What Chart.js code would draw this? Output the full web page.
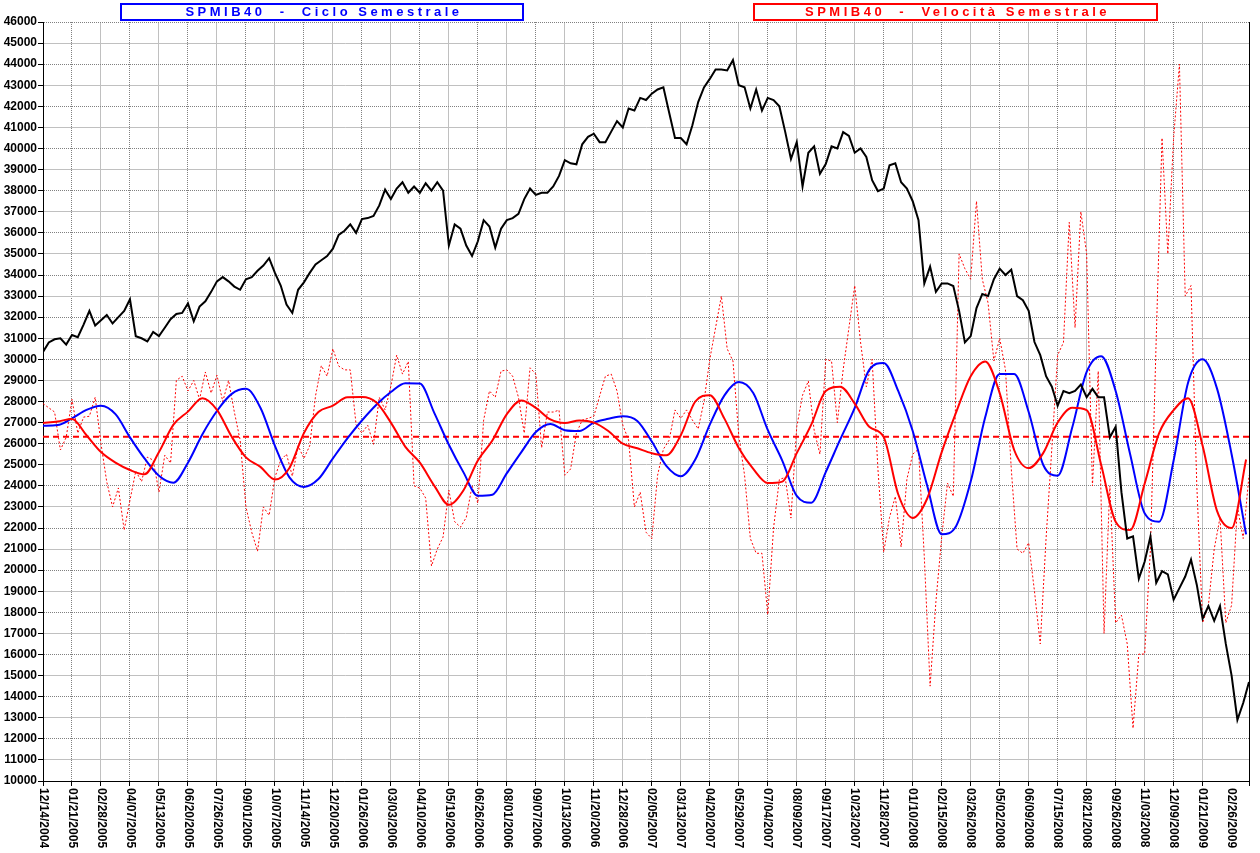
<!DOCTYPE html>
<html>
<head>
<meta charset="utf-8">
<title>SPMIB40 - Ciclo e Velocità Semestrale</title>
<script src="https://cdn.jsdelivr.net/npm/chart.js@4.4.1/dist/chart.umd.min.js"></script>
<style>
  html, body { margin: 0; padding: 0; background: #fff; }
  canvas { display: block; }
</style>
</head>
<body>
<canvas id="chart" width="1260" height="853"></canvas>
<script>
// date shown every 5 weekly samples
const dateLabels = [
  "12/14/2004", "01/21/2005", "02/28/2005", "04/07/2005", "05/13/2005", "06/20/2005",
  "07/26/2005", "09/01/2005", "10/07/2005", "11/14/2005", "12/20/2005", "01/26/2006",
  "03/03/2006", "04/10/2006", "05/19/2006", "06/26/2006", "08/01/2006", "09/07/2006",
  "10/13/2006", "11/20/2006", "12/28/2006", "02/05/2007", "03/13/2007", "04/20/2007",
  "05/29/2007", "07/04/2007", "08/09/2007", "09/17/2007", "10/23/2007", "11/28/2007",
  "01/10/2008", "02/15/2008", "03/26/2008", "05/02/2008", "06/09/2008", "07/15/2008",
  "08/21/2008", "09/26/2008", "11/03/2008", "12/09/2008", "01/21/2009", "02/26/2009"
];

// SPMIB40 index, one value per week
const priceValues = [
  30350, 30800, 30950, 31000, 30700, 31150, 31050, 31650, 32300, 31600,
  31850, 32100, 31700, 32000, 32300, 32850, 31100, 31000, 30850, 31300,
  31100, 31500, 31900, 32150, 32200, 32650, 31800, 32500, 32750, 33200,
  33700, 33900, 33700, 33450, 33300, 33800, 33900, 34200, 34450, 34800,
  34100, 33500, 32600, 32200, 33300, 33650, 34100, 34500, 34700, 34900,
  35250, 35900, 36100, 36400, 36000, 36650, 36700, 36800, 37300, 38050,
  37600, 38100, 38400, 37900, 38200, 37900, 38350, 38000, 38400, 38000,
  35400, 36400, 36200, 35400, 34900, 35600, 36600, 36300, 35300, 36200,
  36600, 36700, 36900, 37600, 38100, 37800, 37900, 37900, 38200, 38700,
  39450, 39300, 39250, 40200, 40550, 40700, 40300, 40300, 40800, 41300,
  41000, 41900, 41800, 42400, 42300, 42600, 42800, 42900, 41700, 40500,
  40500, 40200, 41100, 42200, 42900, 43300, 43750, 43750, 43700, 44200,
  43000, 42900, 41900, 42800, 41800, 42400, 42300, 42000, 40800, 39500,
  40300, 38200, 39800, 40100, 38800, 39260, 40100, 40000, 40780, 40600,
  39800, 40000, 39600, 38500, 37980, 38100, 39200, 39300, 38400, 38100,
  37500, 36600, 33600, 34400, 33200, 33600, 33600, 33480, 32300, 30800,
  31100, 32430, 33100, 33000, 33800, 34300, 34000, 34250, 33000, 32800,
  32300, 30820, 30200, 29200, 28700, 27800, 28500, 28400, 28500, 28800,
  28200, 28600, 28200, 28200, 26300, 26800, 23700, 21500, 21600, 19600,
  20400, 21600, 19400, 19950, 19800, 18600, 19150, 19700, 20500, 19300,
  17700, 18300, 17600, 18300, 16500, 15000, 12900, 13700, 14700
];

// raw six-month velocity, one value per week (dotted)
const speedRawValues = [
  27900, 27700, 27500, 25700, 26300, 28100, 26500, 27260, 27300, 28200,
  26000, 24180, 23000, 23900, 21900, 23320, 24700, 24200, 25360, 25220,
  23700, 25450, 25080, 29000, 29200, 28500, 29000, 28100, 29400, 28400,
  29250, 28000, 29000, 27500, 26170, 23000, 21800, 20900, 23000, 22600,
  24400, 25220, 25500, 24460, 25900, 25300, 25900, 28260, 29700, 29200,
  30500, 29680, 29500, 29500, 26900, 26500, 26880, 25970, 28200, 27600,
  28730, 30200, 29300, 29900, 24000, 23890, 23420, 20200, 21000, 21570,
  23800, 22300, 22040, 22500, 24000, 23180, 27120, 28500, 28200, 29440,
  29500, 29200, 28200, 26500, 29600, 29300, 25800, 27500, 27500, 27590,
  24500, 24800, 26500, 27120, 27200, 27300, 28260, 29200, 29300, 28500,
  26880, 26170, 23000, 23700, 21800, 21500, 24500, 25740, 26170, 27600,
  27200, 27600, 27120, 26700, 28000, 30000, 31500, 33000, 30500, 29920,
  26400, 24500, 21500, 20800, 20800, 17900, 22000, 24300, 24400, 22470,
  26800, 28300, 28970, 26640, 25500, 30000, 29920, 27000, 29500, 31500,
  33500, 30820, 28700, 30000, 24800, 20860, 22500, 23500, 21100, 24320,
  25500, 25740, 20620, 14500, 18500, 21570, 24130, 23500, 35000, 34300,
  33800, 37500, 33800, 32670, 29920, 31000, 29500, 24800, 21000, 20800,
  21300, 19000, 16500, 21500, 25800, 30200, 30800, 36500, 31500, 37000,
  35000, 24000, 29440, 17000, 24000, 17500, 17870, 16500, 12500, 16020,
  16020, 21000, 31000, 40500, 35000, 40500, 44000, 33000, 33500, 24000,
  17500, 18340, 21000, 22500, 17500, 18340, 23000, 21500, 24500
];

// smoothed series, one value every 2.5 weeks
const cycleValues = [
  26850, 26880, 27200, 27600, 27800, 27400, 26300, 25300, 24480, 24150,
  25100, 26450, 27550, 28350, 28600, 27700, 25900, 24400, 23950, 24320,
  25300, 26250, 27100, 27850, 28450, 28870, 28850, 27450, 25950, 24650,
  23530, 23580, 24600, 25600, 26550, 26930, 26640, 26600, 27000, 27180,
  27300, 27080, 26100, 24950, 24460, 25250, 26900, 28280, 28920, 28400,
  26650, 25200, 23520, 23200, 24650, 26200, 27700, 29500, 29830, 28500,
  26600, 24000, 21700, 22100, 24200, 27250, 29300, 29300, 27500, 25000,
  24480, 26750, 29400, 30150, 28500, 25500, 22700, 22300, 25200, 28900,
  30000, 28600, 25500, 21700
];

const speedValues = [
  26980, 27050, 27170, 26400, 25600, 25100, 24750, 24550, 25600, 26900,
  27520, 28150, 27600, 26350, 25350, 24900, 24300, 24850, 26500, 27500,
  27800, 28200, 28210, 27950, 27000, 25850, 25100, 24000, 23100, 23780,
  25200, 26150, 27400, 28050, 27700, 27150, 26980, 27100, 27000, 26600,
  26000, 25780, 25550, 25450, 26400, 28000, 28300, 27200, 25800, 24800,
  24130, 24200, 25550, 26900, 28500, 28700, 27900, 26800, 26310, 23600,
  22480, 23400, 25600, 27500, 29200, 29900, 28400, 25700, 24840, 25550,
  27000, 27700, 27590, 25000, 22300, 21900, 24100, 26500, 27590, 28150,
  25900, 22800, 22000, 25250
];

const speedMean = 26330;

const WEEKS_PER_LABEL = 5;
const SMOOTH_STEP = 2.5;
const LAST_WEEK = 208;

function toPoints(values, step) {
  return values.map((y, i) => ({ x: i * step, y: y }));
}

const AXIS_FONT = { family: "'Liberation Sans', Arial, sans-serif", size: 12, weight: "bold" };

function drawTitle(ctx, text, color, left, right) {
  ctx.save();
  ctx.strokeStyle = color;
  ctx.lineWidth = 2;
  ctx.strokeRect(left + 1, 4, right - left - 2, 16);
  ctx.fillStyle = color;
  ctx.font = "bold 13px 'Liberation Sans', Arial, sans-serif";
  ctx.letterSpacing = "3.5px";
  ctx.textBaseline = "middle";
  ctx.textAlign = "left";
  const w = ctx.measureText(text).width;
  ctx.fillText(text, (left + right) / 2 - w / 2 + 2, 12.5);
  ctx.restore();
}

const framePlugin = {
  id: "frame",
  afterDraw(chart) {
    const { ctx, chartArea, scales } = chart;
    ctx.save();
    ctx.strokeStyle = "#000";
    ctx.lineWidth = 1;
    ctx.beginPath();
    ctx.moveTo(chartArea.right + 0.5, chartArea.top);
    ctx.lineTo(chartArea.right + 0.5, chartArea.bottom);
    ctx.stroke();

    ctx.font = "bold 12px 'Liberation Sans', Arial, sans-serif";
    ctx.fillStyle = "#000";
    ctx.textAlign = "left";
    ctx.textBaseline = "middle";
    dateLabels.forEach((label, k) => {
      const px = scales.x.getPixelForValue(k * WEEKS_PER_LABEL);
      ctx.save();
      ctx.translate(px, chartArea.bottom + 7);
      ctx.rotate(Math.PI / 2);
      ctx.fillText(label, 0, 0);
      ctx.restore();
    });
    ctx.restore();

    drawTitle(ctx, "SPMIB40  -  Ciclo Semestrale", "#0000ff", 120, 524);
    drawTitle(ctx, "SPMIB40  -  Velocità Semestrale", "#ff0000", 753, 1158);
  }
};

const chart = new Chart(document.getElementById("chart"), {
  type: "line",
  data: {
    datasets: [
      {
        label: "SPMIB40",
        data: toPoints(priceValues, 1),
        borderColor: "#000000",
        borderWidth: 2,
        pointRadius: 0,
        tension: 0,
      },
      {
        label: "Velocità Semestrale",
        data: toPoints(speedValues, SMOOTH_STEP),
        borderColor: "#ff0000",
        borderWidth: 2,
        pointRadius: 0,
        cubicInterpolationMode: "monotone",
      },
      {
        label: "Ciclo Semestrale",
        data: toPoints(cycleValues, SMOOTH_STEP),
        borderColor: "#0000ff",
        borderWidth: 2,
        pointRadius: 0,
        cubicInterpolationMode: "monotone",
      },
      {
        label: "Media",
        data: [{ x: 0, y: speedMean }, { x: LAST_WEEK, y: speedMean }],
        borderColor: "#ff0000",
        borderWidth: 2,
        borderDash: [6, 4],
        pointRadius: 0,
      },
      {
        label: "Velocità",
        data: toPoints(speedRawValues, 1),
        borderColor: "#ff0000",
        borderWidth: 1,
        borderDash: [2, 2],
        pointRadius: 0,
        tension: 0,
      },
    ],
  },
  options: {
    responsive: false,
    animation: false,
    layout: { padding: { top: 22, right: 11, left: 0, bottom: 0 } },
    plugins: {
      legend: { display: false },
      tooltip: { enabled: false },
    },
    scales: {
      x: {
        type: "linear",
        min: 0,
        max: LAST_WEEK,
        afterFit: (scale) => { scale.height = 72; },
        ticks: { display: false, stepSize: WEEKS_PER_LABEL },
        grid: {
          color: (ctx) => {
            if (!ctx.tick) return "#c0c0c0";
            if (ctx.tick.value === LAST_WEEK) return "#000000";
            return ctx.tick.value % 10 === 5 ? "#808080" : "#c0c0c0";
          },
          tickColor: "#000000",
          tickLength: 5,
          tickBorderDash: [],
        },
        border: {
          color: "#000000",
          dash: (ctx) => (ctx.tick && ctx.tick.value % 10 === 5 ? [1, 1] : []),
        },
      },
      y: {
        min: 10000,
        max: 46000,
        afterFit: (scale) => { scale.width = 43; },
        ticks: {
          stepSize: 1000,
          color: "#000000",
          font: AXIS_FONT,
          padding: 1,
          callback: (v) => String(v),
        },
        grid: {
          color: (ctx) => (ctx.tick && ctx.tick.value % 2000 === 0 ? "#808080" : "#c0c0c0"),
          tickColor: "#000000",
          tickLength: 5,
          tickBorderDash: [],
        },
        border: {
          color: "#000000",
          dash: (ctx) => (ctx.tick && ctx.tick.value % 2000 === 0 ? [1, 1] : []),
        },
      },
    },
  },
  plugins: [framePlugin],
});
</script>
</body>
</html>
